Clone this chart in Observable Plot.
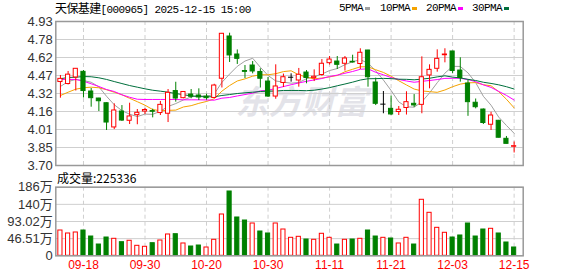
<!DOCTYPE html>
<html><head><meta charset="utf-8">
<script src="https://cdn.jsdelivr.net/npm/d3@7"></script>
<script src="https://cdn.jsdelivr.net/npm/@observablehq/plot@0.6"></script>
<style>
body{margin:0;background:#fff;}
#wrap{position:relative;width:578px;height:276px;overflow:hidden;background:#fff;}
#wrap svg{position:absolute;left:0;}
.t{position:absolute;white-space:nowrap;line-height:14px;color:#000;}
.lg{position:absolute;top:7px;width:5px;height:3px;}
</style></head><body><div id="wrap"></div>
<script>
// ---- data ----
const dates = ["09-15","09-16","09-17","09-18","09-19","09-22","09-23","09-24","09-25","09-26","09-29","09-30",
"10-09","10-10","10-13","10-14","10-15","10-16","10-17","10-20","10-21","10-22","10-23","10-24","10-27","10-28","10-29","10-30","10-31",
"11-03","11-04","11-05","11-06","11-07","11-10","11-11","11-12","11-13","11-14","11-17","11-18","11-19","11-20","11-21","11-24","11-25","11-26","11-27","11-28",
"12-01","12-02","12-03","12-04","12-05","12-08","12-09","12-10","12-11","12-12","12-15"];
const open  = [4.413,4.396,4.452,4.500,4.332,4.272,4.232,4.025,4.161,4.082,4.130,4.161,4.165,4.148,4.142,4.336,4.275,4.306,4.298,4.289,
4.277,4.441,4.802,4.648,4.507,4.554,4.499,4.417,4.289,4.405,4.454,4.426,4.494,4.446,4.473,4.574,4.588,4.569,4.586,4.567,
4.682,4.409,4.224,4.184,4.157,4.191,4.227,4.218,4.469,4.526,4.642,4.674,4.511,4.400,4.236,4.178,4.048,4.082,3.928,3.860];
const high  = [4.469,4.503,4.526,4.511,4.358,4.274,4.235,4.227,4.212,4.232,4.178,4.187,4.181,4.247,4.349,4.411,4.332,4.349,4.355,4.309,
4.394,4.828,4.830,4.687,4.554,4.588,4.526,4.452,4.560,4.481,4.483,4.529,4.511,4.517,4.605,4.631,4.631,4.631,4.642,4.697,
4.684,4.446,4.332,4.294,4.204,4.330,4.306,4.628,4.560,4.688,4.697,4.676,4.620,4.426,4.268,4.183,4.155,4.085,3.948,3.901];
const low   = [4.275,4.388,4.336,4.277,4.198,4.161,3.999,4.007,4.076,4.050,4.048,4.136,4.107,4.127,4.067,4.241,4.270,4.270,4.255,4.258,
4.272,4.362,4.580,4.563,4.443,4.483,4.362,4.281,4.266,4.366,4.412,4.369,4.398,4.417,4.463,4.558,4.520,4.507,4.575,4.520,
4.369,4.212,4.142,4.127,4.127,4.131,4.195,4.142,4.355,4.497,4.577,4.486,4.412,4.120,4.184,4.050,3.999,3.935,3.884,3.807];
const close = [4.440,4.476,4.526,4.336,4.275,4.249,4.067,4.170,4.084,4.119,4.150,4.174,4.159,4.218,4.321,4.272,4.328,4.287,4.281,4.275,
4.383,4.825,4.640,4.611,4.500,4.503,4.441,4.289,4.375,4.454,4.454,4.475,4.447,4.458,4.569,4.605,4.560,4.614,4.580,4.663,
4.454,4.227,4.224,4.136,4.176,4.241,4.213,4.454,4.517,4.611,4.648,4.507,4.447,4.241,4.198,4.063,4.127,3.937,3.885,3.865];
// volume in 万
const volume = [68.6,60.5,63.2,68.6,52.3,30.6,49.6,46.1,36.9,40.7,27.1,24.4,34.2,41.5,57.8,58.6,33.4,25.2,27.9,22.5,
43.4,112.0,174.4,103.9,95.7,87.6,65.9,60.5,87.6,71.3,48.8,51.5,44.2,43.4,59.7,48.8,30.6,43.4,44.2,46.1,
68.6,52.3,48.8,46.9,33.4,48.8,30.6,151.9,116.6,75.9,62.4,49.6,55.1,87.6,52.3,71.3,73.2,60.5,36.1,22.5336];
const volumeUp = [1,1,1,0,0,0,0,1,0,1,1,1,0,1,1,0,1,0,0,1,
1,1,0,0,0,1,0,0,1,1,1,1,0,1,1,1,0,1,0,1,
0,0,1,0,1,1,0,1,1,1,1,0,0,0,0,0,1,0,0,0];
const ma5 = [4.375,4.417,4.435,4.426,4.411,4.372,4.291,4.219,4.169,4.138,4.118,4.139,4.137,4.164,4.204,4.229,4.260,4.285,4.298,4.289,
4.311,4.410,4.481,4.547,4.592,4.616,4.539,4.469,4.422,4.412,4.403,4.409,4.441,4.458,4.481,4.511,4.528,4.561,4.586,4.604,
4.574,4.508,4.430,4.341,4.243,4.201,4.198,4.244,4.320,4.407,4.489,4.547,4.546,4.491,4.408,4.291,4.215,4.113,4.042,3.975];
const ma10 = [4.298,4.326,4.352,4.364,4.369,4.364,4.347,4.326,4.304,4.274,4.245,4.215,4.178,4.167,4.171,4.173,4.200,4.211,4.231,4.247,
4.270,4.335,4.383,4.422,4.440,4.463,4.475,4.475,4.484,4.502,4.509,4.474,4.455,4.440,4.447,4.457,4.469,4.501,4.522,4.543,
4.543,4.518,4.495,4.463,4.424,4.388,4.353,4.337,4.331,4.325,4.345,4.373,4.395,4.406,4.408,4.390,4.381,4.330,4.266,4.192];
const ma20 = [4.435,4.435,4.435,4.420,4.398,4.375,4.349,4.332,4.304,4.283,4.266,4.264,4.264,4.264,4.264,4.264,4.261,4.261,4.261,4.260,
4.258,4.275,4.281,4.294,4.306,4.318,4.337,4.343,4.358,4.374,4.390,4.405,4.419,4.431,4.443,4.460,4.472,4.488,4.503,4.522,
4.526,4.496,4.475,4.451,4.435,4.422,4.411,4.419,4.426,4.434,4.444,4.445,4.445,4.434,4.416,4.389,4.367,4.333,4.299,4.259];
const ma30 = [4.441,4.452,4.454,4.460,4.458,4.449,4.435,4.417,4.400,4.383,4.369,4.355,4.343,4.335,4.326,4.315,4.304,4.295,4.289,4.287,
4.287,4.298,4.306,4.315,4.321,4.326,4.332,4.335,4.336,4.341,4.341,4.341,4.339,4.343,4.353,4.365,4.381,4.396,4.412,4.430,
4.441,4.442,4.444,4.442,4.437,4.436,4.432,4.438,4.445,4.457,4.466,4.455,4.448,4.436,4.426,4.411,4.401,4.389,4.373,4.353];
const xTickLabels = ["09-18","09-30","10-20","10-30","11-11","11-21","12-03","12-15"];
const priceTickLabels = ["3.70","3.85","4.01","4.16","4.32","4.47","4.62","4.78","4.93"];
const volTickLabels = ["0","46.51万","93.02万","140万","186万"];
const priceRange = [3.70, 4.93];
const volMax = 186.04;
const maNames = ["5PMA","10PMA","20PMA","30PMA"];
const lastVolume = "225336";

// ---- drawing ----
const RED = "#ff0000", GREEN = "#008000";
const maColors = ["#a0a0a0","#f5a300","#ff00ff","#006f3c"];
const wrap = document.getElementById("wrap");
const n = dates.length;
const bars = d3.range(n).map(i => ({i, o: open[i], h: high[i], l: low[i], c: close[i], v: volume[i], up: volumeUp[i]}));
const col = d => d.c > d.o ? RED : d.c < d.o ? GREEN : "#000";
const xDomain = [-0.6, n + 0.18];
const pTicks = d3.range(priceTickLabels.length).map(k => priceRange[0] + k * (priceRange[1] - priceRange[0]) / (priceTickLabels.length - 1));
const vTicks = d3.range(volTickLabels.length).map(k => k * volMax / (volTickLabels.length - 1));
const tickIdx = xTickLabels.map(s => dates.indexOf(s));
const hw = 0.27;
const grid = "#cfcfcf";
const mas = [ma5, ma10, ma20, ma30];

const price = Plot.plot({
  width: 578, height: 172, marginLeft: 55.3, marginRight: 55.3, marginTop: 21, marginBottom: 7,
  x: {type: "linear", domain: xDomain, axis: null, label: null},
  y: {domain: priceRange, axis: null, label: null},
  style: {background: "transparent", fontFamily: "'Liberation Sans', Arial, sans-serif", fontSize: "13px", color: "#333"},
  marks: [
    Plot.text(["东方财富"], {frameAnchor: "middle", dx: 12, dy: 10, fontSize: 33, fontWeight: "bold", fontStyle: "italic", fill: "#e3e3e9", fontFamily: "'Noto Sans CJK SC'"}),
    Plot.ruleY(pTicks, {stroke: grid}),
    Plot.ruleX(tickIdx, {stroke: grid, strokeDasharray: "4,3"}),
    Plot.axisY(pTicks, {tickSize: 0, tickPadding: 3, label: null, tickFormat: d => priceTickLabels[pTicks.indexOf(d)]}),
    ...mas.map((m, k) => Plot.line(d3.range(n), {x: i => i, y: i => m[i], stroke: maColors[k], strokeWidth: 1})),
    Plot.ruleX(bars, {x: "i", y1: "l", y2: "h", stroke: col}),
    Plot.rect(bars.filter(d => d.c !== d.o), {x1: d => d.i - hw, x2: d => d.i + hw, y1: "o", y2: "c", fill: d => d.c > d.o ? "#fff" : GREEN, stroke: col}),
    Plot.ruleY(bars.filter(d => d.c === d.o), {y: "c", x1: d => d.i - hw - 0.07, x2: d => d.i + hw + 0.07, stroke: col}),
    Plot.frame({stroke: "#999", strokeWidth: 1.5})
  ]
});
price.style.top = "0px";
wrap.appendChild(price);

const vol = Plot.plot({
  width: 578, height: 106, marginLeft: 55.3, marginRight: 55.3, marginTop: 16.7, marginBottom: 20.7,
  x: {type: "linear", domain: xDomain, axis: null, label: null},
  y: {domain: [0, volMax], axis: null, label: null},
  style: {background: "transparent", fontFamily: "'Liberation Sans', Arial, sans-serif", fontSize: "13px", color: "#333"},
  marks: [
    Plot.ruleY(vTicks, {stroke: grid}),
    Plot.ruleX(tickIdx, {stroke: grid, strokeDasharray: "4,3"}),
    Plot.axisY(vTicks, {tickSize: 0, tickPadding: 3, label: null, tickFormat: d => volTickLabels[vTicks.indexOf(d)], fontFamily: "'Liberation Sans', 'Noto Sans CJK SC', sans-serif"}),
    Plot.axisX(tickIdx, {tickSize: 0, tickPadding: 5, label: null, tickFormat: i => dates[i], fill: RED, fontSize: 12}),
    Plot.rect(bars, {x1: d => d.i - hw, x2: d => d.i + hw, y1: 0, y2: "v", fill: d => d.up ? "#fff" : GREEN, stroke: d => d.up ? RED : GREEN}),
    Plot.frame({stroke: "#999", strokeWidth: 1.5})
  ]
});
vol.style.top = "170px";
wrap.appendChild(vol);

// title, legend, volume label
function addText(html, left, top, style) {
  const el = document.createElement("div");
  el.className = "t";
  el.innerHTML = html;
  el.style.left = left + "px";
  el.style.top = top + "px";
  Object.assign(el.style, style || {});
  wrap.appendChild(el);
  return el;
}
addText('<span style="font-family:\'Noto Sans CJK SC\';font-size:12px">天保基建</span>[000965] 2025-12-15 15:00', 55, 1,
  {fontFamily: "'Liberation Mono', monospace", fontSize: "11px", letterSpacing: "-0.6px"});
const lgX = [339, 380, 426, 472];
maNames.forEach((name, k) => {
  addText(name, lgX[k], 1, {fontFamily: "'Liberation Mono', monospace", fontSize: "11px", letterSpacing: "-0.6px"});
  const sq = document.createElement("div");
  sq.className = "lg";
  sq.style.left = (lgX[k] + name.length * 6 + 2) + "px";
  sq.style.background = maColors[k];
  wrap.appendChild(sq);
});
addText('成交量:' + lastVolume, 57, 171, {fontFamily: "'Noto Sans CJK SC', sans-serif", fontSize: "12px"});
</script>
</body></html>
